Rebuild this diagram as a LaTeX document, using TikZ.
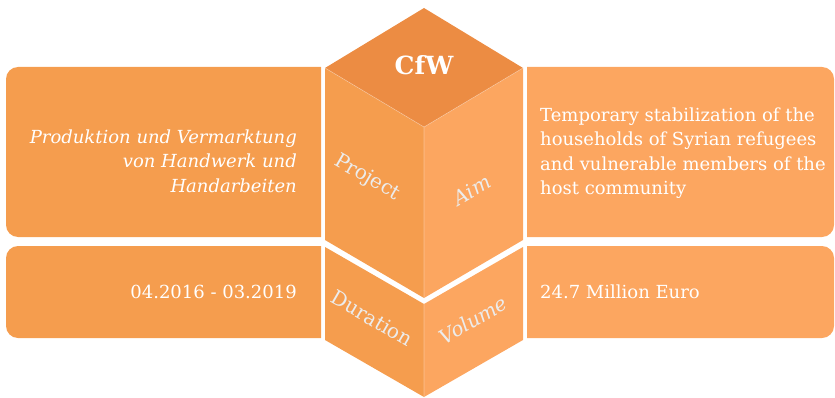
\documentclass[tikz,border=0pt]{standalone}
\usepackage{fontspec}
\setmainfont{DejaVu Serif}
\usetikzlibrary{positioning}
\definecolor{boxL}{HTML}{F59D4E}
\definecolor{boxR}{HTML}{FCA660}
\definecolor{cubetop}{HTML}{EC8C43}
\definecolor{lblgray}{HTML}{ECECEC}

\begin{document}
\begin{tikzpicture}[x=1pt,y=1pt,
  txt/.style={text=white, font=\fontsize{18}{24.5}\selectfont, inner sep=0pt},
  lbl/.style={text=lblgray, font=\fontsize{20}{24}\selectfont, inner sep=0pt},
  rim/.style={draw=white, draw opacity=0.35, line width=0.6pt}]
\useasboundingbox (0,0) rectangle (835,397);
% cube corners
\coordinate (top) at (424,389);
\coordinate (tl) at (325,329);
\coordinate (tr) at (523,329);
\coordinate (mid) at (424,270);
\coordinate (bl) at (325,157);
\coordinate (br) at (523,157);
\coordinate (bm) at (424,99);
\coordinate (ll) at (325,150);
\coordinate (lr) at (523,150);
\coordinate (lm) at (424,93);
\coordinate (fl) at (325,57);
\coordinate (fr) at (523,57);
\coordinate (fm) at (424,0);
% side boxes
\fill[boxL] (321,160) -- (18,160) arc[start angle=270,end angle=180,radius=12]
  -- (6,318) arc[start angle=180,end angle=90,radius=12] -- (321,330) -- cycle;
\fill[boxL] (321,59) -- (18,59) arc[start angle=270,end angle=180,radius=12]
  -- (6,139) arc[start angle=180,end angle=90,radius=12] -- (321,151) -- cycle;
\fill[boxR] (527,160) -- (822,160) arc[start angle=-90,end angle=0,radius=12]
  -- (834,318) arc[start angle=0,end angle=90,radius=12] -- (527,330) -- cycle;
\fill[boxR] (527,59) -- (822,59) arc[start angle=-90,end angle=0,radius=12]
  -- (834,139) arc[start angle=0,end angle=90,radius=12] -- (527,151) -- cycle;
% cube
\fill[boxL] (tl) -- (mid) -- (bm) -- (bl) -- cycle;
\fill[boxR] (mid) -- (tr) -- (br) -- (bm) -- cycle;
\fill[boxL] (ll) -- (lm) -- (fm) -- (fl) -- cycle;
\fill[boxR] (lm) -- (lr) -- (fr) -- (fm) -- cycle;
\fill[cubetop] (top) -- (tr) -- (mid) -- (tl) -- cycle;
\path[rim] (tl) -- (mid) -- (tr) (mid) -- (bm) (lm) -- (fm);

\node[txt, font=\fontsize{25}{30}\selectfont\bfseries] (cfw) at (424,332) {CfW};
\node[lbl, rotate=-30] (project) at (367,219) {Project};
\node[lbl, rotate=30, font=\fontsize{20}{24}\selectfont\itshape] (aim) at (472,207) {Aim};
\node[lbl, rotate=-30] (duration) at (372,79) {Duration};
\node[lbl, rotate=30, font=\fontsize{20}{24}\selectfont\itshape] (volume) at (473,77) {Volume};

\node[txt, anchor=east, align=right, font=\fontsize{18}{24.5}\selectfont\itshape] (proj)
  at (297,236) {Produktion und Vermarktung\\von Handwerk und\\Handarbeiten};
\node[txt, anchor=base east] (dur) at (297,99) {04.2016 - 03.2019};
\node[txt, anchor=west, align=left] (aimtxt) at (540,244)
  {Temporary stabilization of the\\households of Syrian refugees\\and vulnerable members of the\\host community};
\node[txt, anchor=base west] (vol) at (540,99) {24.7 Million Euro};
\end{tikzpicture}
\end{document}
